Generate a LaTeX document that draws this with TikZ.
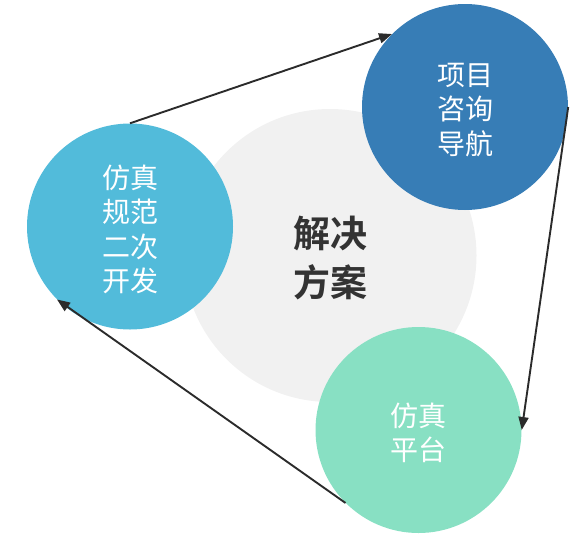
\documentclass[tikz,border=0pt]{standalone}
\usepackage{fontspec}
\newfontfamily\cjk{Noto Sans CJK SC}[BoldFont={Noto Sans CJK SC Bold}]
\usetikzlibrary{arrows.meta}
\definecolor{cgray}{HTML}{F1F1F1}
\definecolor{cleft}{HTML}{52BBDA}
\definecolor{ctop}{HTML}{377DB6}
\definecolor{cbot}{HTML}{88E0C3}
\definecolor{carrow}{HTML}{2B2B2B}
\tikzset{
  bubble/.style={circle, inner sep=0pt, minimum size=206pt},
  btext/.style={text=white, align=center, inner sep=0pt,
    font=\cjk\fontsize{28}{34.5}\selectfont},
  flow/.style={draw=carrow, line width=1.9pt, -{Triangle[length=13pt,width=10pt]}}
}
\begin{document}
\begin{tikzpicture}[x=1pt,y=-1pt]
\useasboundingbox (0,0) rectangle (585,538);
\node[circle, fill=cgray, minimum size=293pt, inner sep=0pt] (C) at (330,255.5) {};
\node[bubble, fill=cleft] (L) at (130,226.5) {};
\node[bubble, fill=ctop] (T) at (465,107) {};
\node[bubble, fill=cbot] (B) at (418.5,430) {};
\node[btext] (Lt) at ([yshift=-3pt]L.center) {仿真\\规范\\二次\\开发};
\node[btext] (Tt) at ([yshift=-3pt]T.center) {项目\\咨询\\导航};
\node[btext] (Bt) at ([yshift=-3pt]B.center) {仿真\\平台};
\node[align=center, text=black!80, font=\cjk\bfseries\fontsize{37}{49}\selectfont] (CT) at (330,258) {解决\\方案};
\draw[flow] (L.90) -- (T.135);
\draw[flow] (T.0) -- (B.0);
\draw[flow] (B.225) -- (L.225);
\end{tikzpicture}
\end{document}
